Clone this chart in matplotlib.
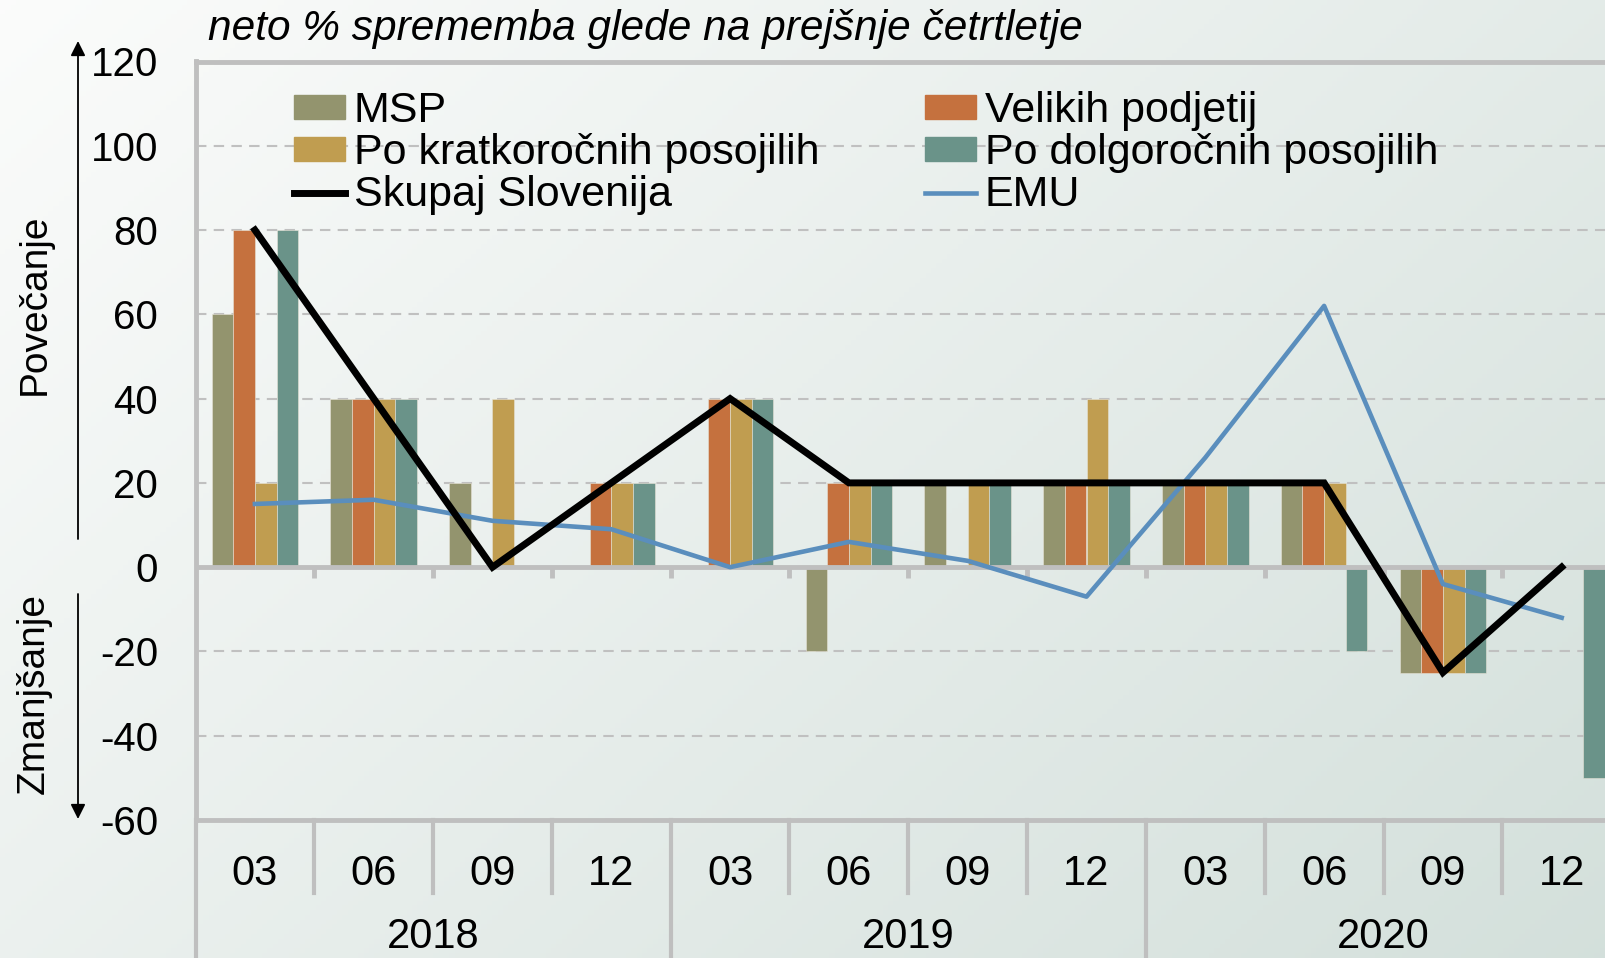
import numpy as np
import matplotlib
matplotlib.use("Agg")
import matplotlib.pyplot as plt
import matplotlib.transforms as mtransforms
from matplotlib.patches import Patch, FancyArrowPatch
from matplotlib.lines import Line2D

plt.rcParams['font.family'] = ['Liberation Sans', 'DejaVu Sans']
plt.rcParams['axes.unicode_minus'] = False

# ---------------- data ----------------
months = ['03', '06', '09', '12', '03', '06', '09', '12', '03', '06', '09', '12']
years = ['2018', '2019', '2020']
msp = [60, 40, 20, 0, 0, -20, 20, 20, 20, 20, -25, 0]
velikih = [80, 40, 0, 20, 40, 20, 0, 20, 20, 20, -25, 0]
kratko = [20, 40, 40, 20, 40, 20, 20, 40, 20, 20, -25, 0]
dolgo = [80, 40, 0, 20, 40, 20, 20, 20, 20, -20, -25, -50]
skupaj = [80, 40, 0, 20, 40, 20, 20, 20, 20, 20, -25, 0]
emu = [15, 16, 11, 9, 0, 6, 1.5, -7, 26, 62, -4, -12]

bar_series = [
    ('MSP', msp, '#93946e'),
    ('Velikih podjetij', velikih, '#c5713e'),
    ('Po kratkoročnih posojilih', kratko, '#c09d50'),
    ('Po dolgoročnih posojilih', dolgo, '#6a9389'),
]
BLUE = '#5a8ebd'

W, H = 1605, 958
fig = plt.figure(figsize=(W / 100, H / 100), dpi=100)

# gradient background
bg = fig.add_axes([0, 0, 1, 1], zorder=-10)
yy, xx = np.mgrid[0:1:200j, 0:1:300j]
t = (xx * 0.6 + yy * 0.4)
c0 = np.array([0.985, 0.988, 0.985])
c1 = np.array([0.83, 0.878, 0.86])
img = c0[None, None, :] * (1 - t[..., None]) + c1[None, None, :] * t[..., None]
bg.imshow(img, extent=[0, 1, 0, 1], aspect='auto', origin='upper')
bg.set_axis_off()

left = 195.5 / W
step = 118.8 / W
bottom = (H - 820) / H
top = (H - 61.5) / H
ax = fig.add_axes([left, bottom, step * 12, top - bottom])
ax.set_facecolor('none')

x = np.arange(len(months))
w = 0.182
for k, (name, vals, col) in enumerate(bar_series):
    ax.bar(x + (k - 1.5) * w, vals, width=w, color=col, edgecolor='#e6e2d6',
           linewidth=0.4, zorder=3)

ax.axhline(0, color='#bfbfbf', lw=3.5, zorder=4)
ax.vlines(np.arange(0.5, 11.5, 1), -2.6, 0, color='#bfbfbf', lw=3.5, zorder=4)

ax.plot(x, skupaj, color='black', lw=5, zorder=6, solid_joinstyle='miter')
ax.plot(x, emu, color=BLUE, lw=3.3, zorder=5)

ax.set_xlim(-0.5, 11.5)
ax.set_ylim(-60, 120)
ax.set_yticks(range(-60, 121, 20))
ax.set_xticks([])
ax.tick_params(axis='y', length=0, pad=27, labelsize=29)
ax.yaxis.grid(True, color='#c0c0c0', lw=1.5, dashes=(5, 3.5), zorder=1)
ax.set_axisbelow(True)
for s in ['left', 'top', 'bottom']:
    ax.spines[s].set_color('#bfbfbf')
    ax.spines[s].set_linewidth(3.5)
ax.spines['right'].set_visible(False)

# category table under the plot
tr = mtransforms.blended_transform_factory(ax.transData, fig.transFigure)
for i, m in enumerate(months):
    ax.text(i, (H - 874) / H, m, transform=tr, ha='center', va='center',
            fontsize=30, clip_on=False)
for b in range(1, 12):
    if b % 4 == 0:
        continue
    ax.plot([b - 0.5, b - 0.5], [bottom, (H - 893) / H], transform=tr,
            color='#bfbfbf', lw=3, clip_on=False)
for j, yr in enumerate(years):
    ax.plot([j * 4 - 0.5, j * 4 - 0.5], [bottom, 0], transform=tr,
            color='#bfbfbf', lw=3, clip_on=False)
    ax.text(j * 4 + 1.5, 1.0 / H, yr, transform=tr, ha='center',
            va='bottom', fontsize=30, clip_on=False)

# legend
handles = [
    Patch(color=bar_series[0][2]), Patch(color=bar_series[2][2]),
    Line2D([], [], color='black', lw=5),
    Patch(color=bar_series[1][2]), Patch(color=bar_series[3][2]),
    Line2D([], [], color=BLUE, lw=3.3),
]
labels = ['MSP', 'Po kratkoročnih posojilih', 'Skupaj Slovenija',
          'Velikih podjetij', 'Po dolgoročnih posojilih', 'EMU']
ax.legend(handles, labels, ncol=2, loc='upper left',
          bbox_to_anchor=(294 / W, (H - 91) / H), bbox_transform=fig.transFigure,
          frameon=False, fontsize=31, handlelength=1.19, handleheight=0.48,
          handletextpad=0.2, columnspacing=2.45, labelspacing=0.05,
          borderpad=0, borderaxespad=0)

fig.text(208 / W, (H - 29) / H, 'neto % sprememba glede na prejšnje četrtletje',
         fontsize=30.5, style='italic', ha='left', va='center')
fig.text(35 / W, (H - 304) / H, 'Povečanje', rotation=90, fontsize=28,
         ha='center', va='center')
fig.text(34 / W, (H - 693) / H, 'Zmanjšanje', rotation=90, fontsize=28,
         ha='center', va='center')
ap = dict(arrowstyle='-|>', color='black', lw=1.3, mutation_scale=22,
          shrinkA=0, shrinkB=0)
fig.add_artist(FancyArrowPatch((78 / W, (H - 539) / H), (78 / W, (H - 41) / H),
                               transform=fig.transFigure, **ap))
fig.add_artist(FancyArrowPatch((78 / W, (H - 594) / H), (78 / W, (H - 819) / H),
                               transform=fig.transFigure, **ap))

fig.savefig('out.png', dpi=100)
